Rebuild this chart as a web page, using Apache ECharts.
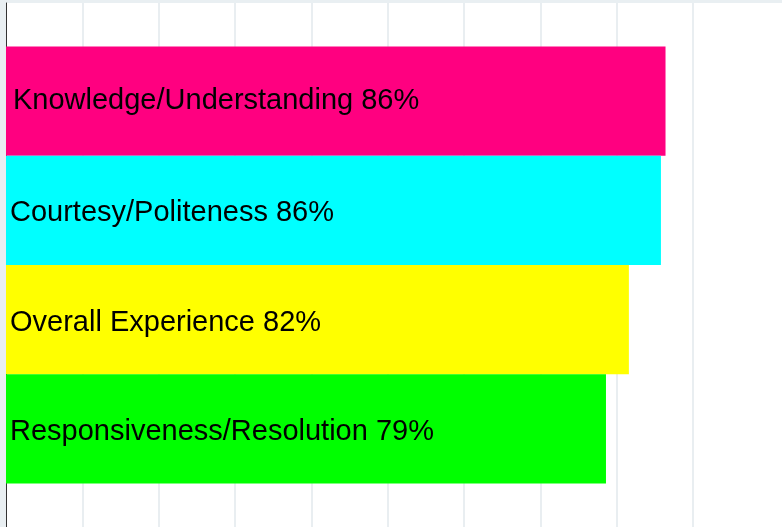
<!DOCTYPE html>
<html>
<head>
<meta charset="utf-8">
<script src="https://cdn.jsdelivr.net/npm/echarts@6/dist/echarts.min.js"></script>
<style>
  html, body { margin: 0; padding: 0; background: #fff; }
  #chart { width: 782px; height: 527px; }
</style>
</head>
<body>
<div id="chart"></div>
<script>
// survey scores, top to bottom
const categories = ["Knowledge/Understanding", "Courtesy/Politeness", "Overall Experience", "Responsiveness/Resolution"];
const values = [86.4, 85.8, 81.6, 78.6];
const colors = ["#ff0080", "#00ffff", "#ffff00", "#00ff00"];

const chart = echarts.init(document.getElementById("chart"));

const series = categories.map((name, i) => ({
  name: name,
  type: "bar",
  data: [values[i]],
  barWidth: 109.3,
  barGap: "0%",
  itemStyle: { color: colors[i] },
  label: {
    show: true,
    position: "insideLeft",
    distance: 4,
    offset: i === 0 ? [3, 0] : [0, 3],
    color: "#000",
    fontSize: 29,
    fontFamily: "Liberation Sans, Arial, sans-serif",
    formatter: p => p.seriesName + " " + Math.round(p.value) + "%"
  }
}));

chart.setOption({
  animation: false,
  graphic: [
    { type: "rect", shape: { x: 0, y: 0, width: 782, height: 3 }, style: { fill: "#e9eff2" }, silent: true },
    { type: "rect", shape: { x: 0, y: 0, width: 5, height: 527 }, style: { fill: "#e9eff2" }, silent: true }
  ],
  grid: { left: 6, top: 3, width: 687, bottom: 0, containLabel: false },
  xAxis: {
    type: "value",
    min: 0,
    max: 90,
    interval: 10,
    axisLine: { show: false },
    axisTick: { show: false },
    axisLabel: { show: false },
    splitLine: { lineStyle: { color: "#e2e9ed", width: 1.5 } }
  },
  yAxis: {
    type: "category",
    data: [""],
    inverse: true,
    axisLine: { show: true, lineStyle: { color: "#333", width: 1 } },
    axisTick: { show: false },
    axisLabel: { show: false },
    splitLine: { show: false }
  },
  series: series
});
</script>
</body>
</html>
